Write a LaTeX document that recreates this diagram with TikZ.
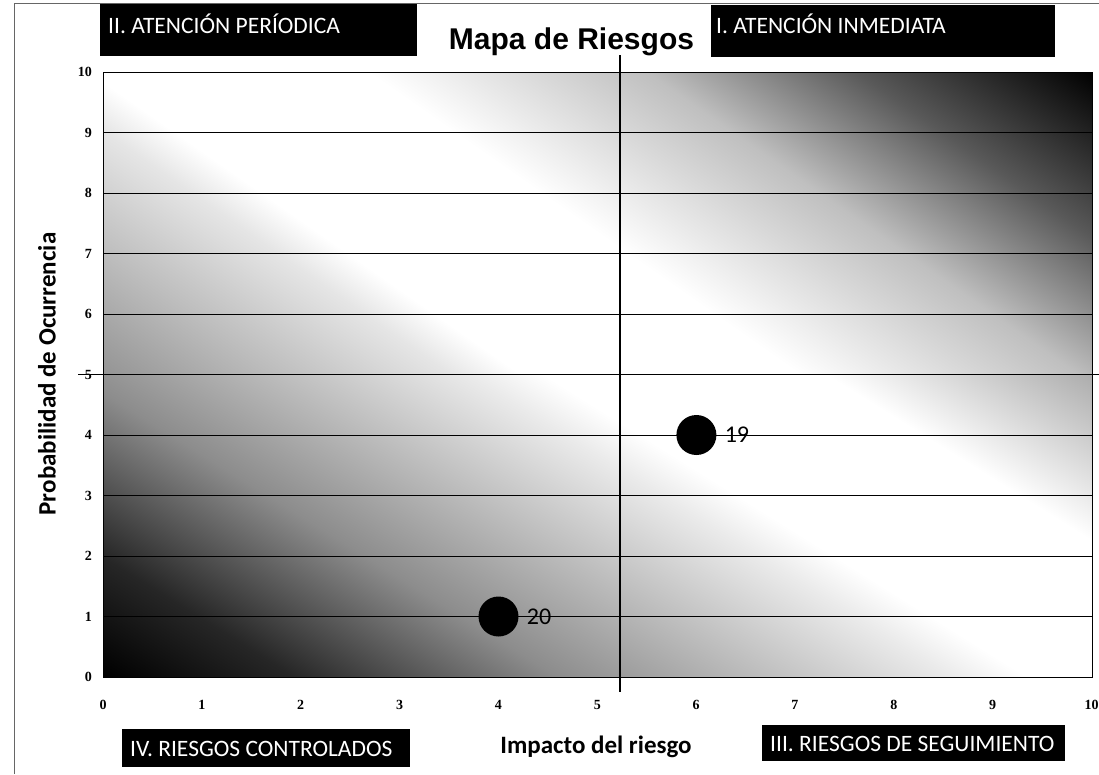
\documentclass[tikz,border=0pt]{standalone}
\usepackage{fontspec}
\setmainfont{Carlito}
\newfontfamily\titlefont{Liberation Sans}
\newfontfamily\tickfont{Liberation Serif}
\colorlet{g08}{black!8}
\colorlet{g10}{black!10}
\colorlet{g25}{black!25}
\colorlet{g32}{black!32}
\colorlet{g42}{black!42}
\colorlet{g45}{black!45}
\colorlet{g65}{black!65}
\colorlet{g85}{black!85}
\pgfdeclarehorizontalshading{upshade}{100bp}{color(0bp)=(g42); color(29.6bp)=(g42); color(39.6bp)=(g10); color(41.6bp)=(white); color(49.6bp)=(white); color(57.6bp)=(g25); color(63.6bp)=(g65); color(70.4bp)=(black); color(100bp)=(black)}
\pgfdeclarehorizontalshading{loshade}{100bp}{color(0bp)=(black); color(30.5bp)=(black); color(35.5bp)=(g85); color(42.5bp)=(g45); color(53bp)=(g08); color(55bp)=(white); color(62.5bp)=(white); color(69.5bp)=(g32); color(100bp)=(g32)}
\tikzset{
  gridline/.style={draw=black, line width=1pt},
  divline/.style={draw=black, line width=1.8pt},
  frameline/.style={draw=black!60, line width=0.7pt},
  yticklab/.style={font=\tickfont\bfseries\fontsize{14}{16}\selectfont, anchor=east, inner sep=0pt},
  xticklab/.style={font=\tickfont\bfseries\fontsize{14}{16}\selectfont, inner sep=0pt},
  qbox/.style={fill=black, draw=none, inner sep=0pt},
  qtext/.style={text=white, font=\fontsize{23.5}{28}\selectfont, inner sep=0pt},
  axtitle/.style={font=\bfseries\fontsize{25}{30}\selectfont, inner sep=0pt},
  riskdot/.style={circle, fill=black, minimum size=40pt, inner sep=0pt},
  risklab/.style={font=\fontsize{24}{28}\selectfont, anchor=west, inner sep=8pt},
}
\begin{document}
\begin{tikzpicture}[x=1pt,y=-1pt]
\useasboundingbox (0,0) rectangle (1099,774);
\fill[white] (0,0) rectangle (1099,774);
% outer frame
\draw[frameline] (14,774) -- (14,3) -- (1099,3);
% upper half gradient
\begin{scope}
  \clip (103,72) rectangle (1092,374.5);
  \shade[shading=upshade, shading angle=55] (97.5,-277) rectangle (1097.5,723);
\end{scope}
% lower half gradient
\begin{scope}
  \clip (103,374.5) rectangle (1092,677);
  \shade[shading=loshade, shading angle=58] (97.5,25.5) rectangle (1097.5,1025.5);
\end{scope}
% grid lines
\foreach \k in {1,...,9} {
  \draw[gridline] (103,{677-60.5*\k}) -- (1092,{677-60.5*\k});
}
\draw[gridline] (103,72) rectangle (1092,677);
% quadrant dividers
\draw[divline] (78,374.5) -- (1099,374.5);
\draw[divline] (620,55) -- (620,692);
% tick labels
\foreach \k in {0,...,10} {
  \node[yticklab] (yt\k) at (92,{677-60.5*\k}) {\k};
  \node[xticklab] (xt\k) at ({103+98.85*\k},705) {\k};
}
% title
\node[font=\titlefont\bfseries\fontsize{30}{36}\selectfont, anchor=base, inner sep=0pt] (title) at (571.5,49) {Mapa de Riesgos};
% quadrant labels
\node[qbox, minimum width=317pt, minimum height=52pt] (qII) at (258.5,30) {};
\node[qtext, anchor=base west] (tII) at (108,33) {II. ATENCIÓN PERÍODICA};
\node[qbox, minimum width=344pt, minimum height=52pt] (qI) at (883,31) {};
\node[qtext, anchor=base west] (tI) at (716,33) {I. ATENCIÓN INMEDIATA};
\node[qbox, minimum width=288pt, minimum height=38pt] (qIV) at (266,748) {};
\node[qtext, anchor=base west] (tIV) at (130,756) {IV. RIESGOS CONTROLADOS};
\node[qbox, minimum width=303pt, minimum height=36pt] (qIII) at (913.5,743) {};
\node[qtext, anchor=base west] (tIII) at (770,751) {III. RIESGOS DE SEGUIMIENTO};
% axis titles
\node[axtitle, anchor=base] (xtitle) at (596,753) {Impacto del riesgo};
\node[axtitle, rotate=90] (ytitle) at (47,374) {Probabilidad de Ocurrencia};
% risks
\node[riskdot] (d19) at (696.4,435) {};
\node[risklab] (l19) at (d19.east) {19};
\node[riskdot] (d20) at (498.5,616.5) {};
\node[risklab] (l20) at (d20.east) {20};
\end{tikzpicture}
\end{document}
